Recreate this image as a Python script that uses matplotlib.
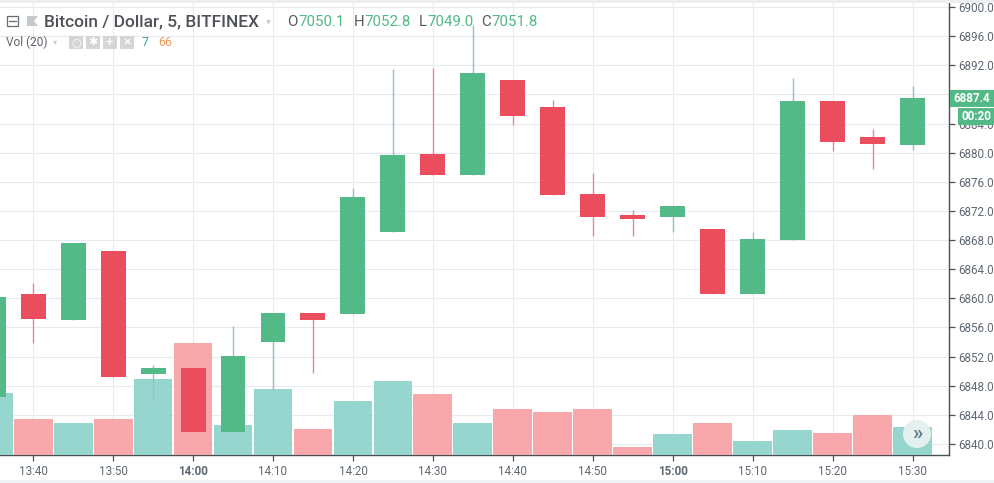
import numpy as np
import matplotlib
matplotlib.use('Agg')
import matplotlib.pyplot as plt
from matplotlib.patches import Rectangle, Circle, Polygon

plt.rcParams['font.family'] = ['Roboto', 'DejaVu Sans']

# candle data, time in minutes since midnight
times = [815, 820, 825, 830, 835, 840, 845, 850, 855, 860, 865, 870,
         875, 880, 885, 890, 895, 900, 905, 910, 915, 920, 925, 930]
opens = [6846.5, 6860.6, 6857.0, 6866.5, 6849.6, 6850.4, 6841.6, 6854.0,
         6858.0, 6857.8, 6869.1, 6879.8, 6876.9, 6890.0, 6886.3, 6874.3,
         6871.4, 6871.2, 6869.5, 6860.6, 6868.0, 6887.1, 6882.2, 6881.1]
closes = [6860.2, 6857.2, 6867.6, 6849.2, 6850.4, 6841.6, 6852.1, 6858.0,
          6857.0, 6873.9, 6879.7, 6876.9, 6890.9, 6885.0, 6874.2, 6871.2,
          6870.9, 6872.7, 6860.6, 6868.1, 6887.1, 6881.5, 6881.2, 6887.5]
highs = [6860.2, 6862.1, 6867.6, 6866.5, 6850.8, 6850.4, 6856.2, 6858.0,
         6858.0, 6875.1, 6891.5, 6891.6, 6897.5, 6890.0, 6887.2, 6877.2,
         6872.1, 6872.7, 6869.5, 6869.1, 6890.3, 6887.1, 6883.2, 6889.2]
lows = [6846.5, 6853.9, 6857.0, 6849.2, 6846.0, 6841.6, 6841.6, 6847.4,
        6849.7, 6857.8, 6869.1, 6876.9, 6876.9, 6883.8, 6874.2, 6868.6,
        6868.6, 6869.1, 6860.6, 6860.6, 6868.0, 6880.2, 6877.8, 6880.4]
volumes = [15.5, 9, 8, 9, 19, 28, 7.5, 16.5, 6.5, 13.5, 18.5, 15.2,
           8, 11.5, 10.8, 11.5, 2, 5.2, 8, 3.5, 6.2, 5.5, 10, 7]

price_ticks = np.arange(6840, 6901, 4)
time_ticks = np.arange(820, 931, 10)
time_labels = ['13:40', '13:50', '14:00', '14:10', '14:20', '14:30',
               '14:40', '14:50', '15:00', '15:10', '15:20', '15:30']

GREEN = '#53b987'
RED = '#eb4d5c'
VOL_GREEN = '#92d4cc'
VOL_RED = '#f8a3a6'
TEXT = '#5f6873'
W, H = 994, 483

fig = plt.figure(figsize=(W / 100, H / 100), dpi=100)
rect = [0, 1 - 455 / H, 948.5 / W, 455 / H]

# price axes hold the grid and the ticks
ax = fig.add_axes(rect, zorder=0)
xlim = (815.85, 934.5)
ylim = (6838.49, 6900.96)
ax.set_xlim(xlim)
ax.set_ylim(ylim)
ax.set_xticks(time_ticks)
ax.set_xticklabels(time_labels)
ax.set_yticks(price_ticks)
ax.set_yticklabels(['%.1f' % p for p in price_ticks])
ax.yaxis.tick_right()
ax.grid(True, color='#e6ebef', lw=0.8)
ax.set_axisbelow(True)
ax.tick_params(axis='both', length=4, width=0.9, color='#4a4f55',
               labelcolor=TEXT, labelsize=8.4, pad=3)
for s in ['top', 'left']:
    ax.spines[s].set_visible(False)
for s in ['right', 'bottom']:
    ax.spines[s].set_color('#4a4f55')
    ax.spines[s].set_linewidth(1)
for lab in ax.get_xticklabels():
    if lab.get_text() in ('14:00', '15:00'):
        lab.set_fontweight('bold')

# volume bars sit above the grid, below the candles
ax_vol = fig.add_axes(rect, zorder=1, sharex=ax)
ax_vol.patch.set_visible(False)
ax_vol.set_ylim(0, 113.75)
ax_vol.axis('off')
up = [c >= o for o, c in zip(opens, closes)]
ax_vol.bar(times, volumes, width=4.85, alpha=0.95,
           color=[VOL_GREEN if u else VOL_RED for u in up])

ax_c = fig.add_axes(rect, zorder=2, sharex=ax)
ax_c.patch.set_visible(False)
ax_c.set_ylim(ylim)
ax_c.axis('off')
for t, o, c, h, l, u in zip(times, opens, closes, highs, lows, up):
    col = GREEN if u else RED
    wick = '#8fc0cc' if u else '#e58a98'
    ax_c.plot([t, t], [l, h], color=wick, lw=1, solid_capstyle='butt', zorder=1)
    ax_c.bar(t, abs(c - o), bottom=min(o, c), width=3.12, color=col, zorder=2)
ax_c.set_xlim(xlim)

# header, price tags and buttons are laid out in pixels
ov = fig.add_axes([0, 0, 1, 1], zorder=3)
ov.set_xlim(0, W)
ov.set_ylim(H, 0)
ov.axis('off')
ov.patch.set_visible(False)

ov.add_patch(Rectangle((0, 0), W, 2.5, color='#eceeef', lw=0))
ov.add_patch(Rectangle((0, 480), W, 3, color='#f1f3f4', lw=0))

ov.add_patch(Rectangle((7, 16), 11, 10, fill=False, ec='#666c72', lw=0.9))
ov.plot([9, 16], [21, 21], color='#666c72', lw=0.9)
ov.add_patch(Polygon([(27, 16), (38, 16), (34, 21), (38, 26), (27, 26)],
                     color='#c6c9cc', lw=0))
ov.text(44, 21.5, 'Bitcoin / Dollar, 5, BITFINEX', fontsize=12.5, color='#4f5358',
        va='center', ha='left', fontweight='medium')
ov.text(268, 21.5, '▾', fontsize=7, color='#c9cccf', va='center', ha='center',
        family='DejaVu Sans')

for key, kx, val, vx in [('O', 287, '7050.1', 298), ('H', 354, '7052.8', 364),
                         ('L', 419, '7049.0', 427), ('C', 481, '7051.8', 491)]:
    ov.text(kx, 21.5, key, fontsize=10.8, color='#555a60', va='center')
    ov.text(vx, 21.5, val, fontsize=10.8, color=GREEN, va='center')

ov.text(6, 42, 'Vol (20)', fontsize=8.6, color='#5f656b', va='center')
ov.text(55, 42, '▾', fontsize=6, color='#c9cccf', va='center', ha='center',
        family='DejaVu Sans')
for bx, glyph in zip([69, 86, 103, 120], ['○', '✱', '+', '×']):
    ov.add_patch(Rectangle((bx, 35.5), 14, 13, color='#d3d5d7', lw=0))
    ov.text(bx + 7, 42, glyph, fontsize=8, color='white', ha='center', va='center',
            family='DejaVu Sans', fontweight='bold')
ov.text(142, 42, '7', fontsize=9, color='#3aa6a0', va='center')
ov.text(158, 42, '66', fontsize=9, color='#ef9a5e', va='center')

ov.add_patch(Rectangle((950, 90), 44, 17, color=GREEN, lw=0))
ov.text(972, 98.5, '6887.4', fontsize=8.4, color='white', fontweight='bold',
        ha='center', va='center')
ov.add_patch(Rectangle((958, 108), 36, 17, color=GREEN, lw=0))
ov.text(976, 116.5, '00:20', fontsize=8.4, color='white', fontweight='bold',
        ha='center', va='center')

ov.add_patch(Circle((917, 434), 14, color='#e4f0f0', lw=0))
ov.text(917, 433, '»', fontsize=15, color='#5f7f8a', ha='center', va='center',
        fontweight='bold')

fig.savefig('out.png', dpi=100)
